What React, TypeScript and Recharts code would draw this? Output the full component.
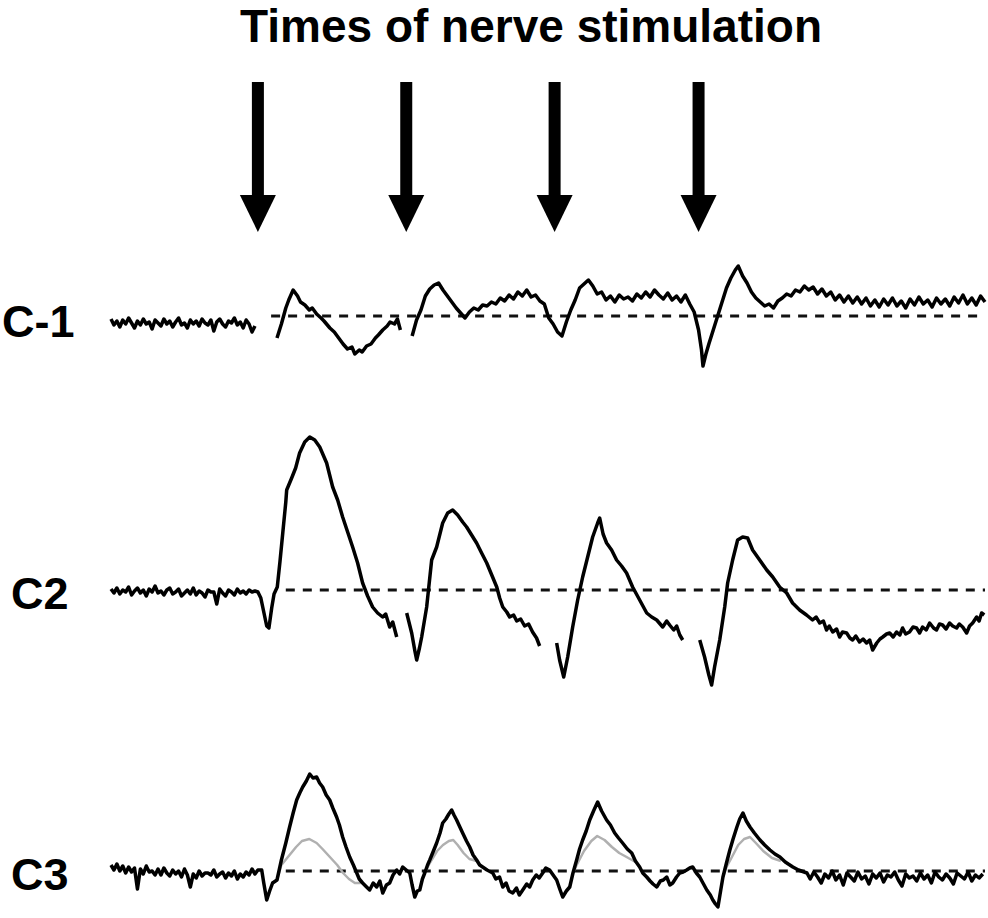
import React from 'react';
import { LineChart, Line, XAxis, YAxis, ReferenceLine, ScatterChart, Scatter } from 'recharts';

// time in ms, amplitude in arbitrary units (relative to each trace's dashed baseline)
const TIME_DOMAIN: [number, number] = [0, 595];

const STIM_TIMES = [100, 201, 302, 400];

const TRACE_LABELS = ['C-1', 'C2', 'C3'];

const C1_TRACE: [number, number | null][] = [
    [0, -3], [2, -9], [4, -5], [6, -11], [8, -4], [10, -8], [12, -2], [14, -7], [16, -12], [18, -5],
    [20, -9], [22, -3], [24, -8], [26, -6], [28, -13], [30, -4], [32, -7], [34, -10], [36, -3], [38, -8],
    [40, -5], [42, -11], [44, -6], [46, -2], [48, -9], [50, -7], [52, -12], [54, -4], [56, -8], [58, -5],
    [60, -10], [62, -3], [64, -7], [66, -9], [68, -4], [70, -15], [72, -6], [74, -3], [76, -8], [78, -11],
    [80, -5], [82, -7], [84, -2], [86, -9], [88, -6], [90, -12], [92, -4], [94, -8], [96, -16], [98, -10],
    [105, null],
    [113, -22], [116, -8], [119, 8], [121, 16], [124, 26], [127, 20], [129, 14], [132, 11], [135, 6], [137, 8],
    [140, 2], [143, -2], [145, -5], [149, -12], [152, -16], [156, -24], [158, -28], [161, -33], [164, -31], [166, -38],
    [169, -34], [171, -36], [174, -30], [177, -28], [180, -22], [182, -19], [185, -14], [188, -10], [190, -6], [193, -8],
    [195, -3], [197, -14],
    [201, null],
    [205, -20], [208, -4], [211, 6], [214, 20], [217, 27], [220, 31], [223, 33], [226, 26], [229, 20], [232, 14],
    [235, 8], [238, 3], [241, -2], [244, 4], [247, 8], [250, 6], [253, 11], [256, 10], [259, 14], [262, 12],
    [265, 18], [268, 15], [271, 21], [274, 17], [277, 24], [280, 20], [283, 26], [286, 19], [289, 21], [292, 15],
    [295, 12], [298, -2], [301, -8], [304, -16], [307, -20], [310, -6], [313, 6], [316, 16], [319, 28], [322, 32],
    [325, 36], [328, 30], [331, 22], [334, 24], [337, 16], [340, 20], [343, 14], [346, 21], [349, 17], [352, 19],
    [355, 15], [358, 22], [361, 18], [364, 24], [367, 19], [370, 26], [373, 21], [376, 17], [379, 23], [382, 16],
    [385, 20], [388, 14], [391, 21], [394, 12], [397, 4], [400, -14], [402, -34], [403, -50], [405, -38], [407, -28],
    [410, -14], [413, 0], [416, 14], [419, 28], [422, 38], [425, 46], [427, 50], [430, 40], [433, 33], [436, 24],
    [439, 18], [442, 14], [445, 10], [448, 12], [451, 8], [454, 15], [457, 18], [460, 22], [463, 20], [466, 26],
    [469, 24], [472, 30], [475, 26], [478, 29], [481, 22], [484, 27], [487, 20], [490, 24], [493, 16], [496, 21],
    [499, 14], [502, 20], [505, 13], [508, 19], [511, 12], [514, 18], [517, 10], [520, 16], [523, 9], [526, 17],
    [529, 11], [532, 18], [535, 10], [538, 15], [541, 8], [544, 17], [547, 11], [550, 19], [553, 12], [556, 16],
    [559, 9], [562, 18], [565, 12], [568, 17], [571, 10], [574, 19], [577, 13], [580, 21], [583, 12], [586, 18],
    [589, 11], [592, 20], [595, 14],
];

const C2_TRACE: [number, number | null][] = [
    [0, 1], [2, -3], [4, 2], [6, -4], [8, 0], [10, -2], [12, 3], [14, -5], [16, -1], [18, 2],
    [20, -3], [22, 0], [24, -6], [26, 1], [28, -2], [30, 4], [32, -3], [34, -1], [36, -5], [38, 0],
    [40, 2], [42, -4], [44, -2], [46, 1], [48, -6], [50, -3], [52, 0], [54, -4], [56, 2], [58, -5],
    [60, -1], [62, -3], [64, -7], [66, 0], [68, -2], [70, -2], [72, -14], [74, 1], [76, -3], [78, -6],
    [80, 0], [82, -2], [84, -5], [86, 1], [88, -3], [90, -1], [92, -4], [94, 0], [96, -2], [98, -1],
    [100, -2], [102, -8], [104, -22], [106, -36], [107.5, -38], [109.4, -18], [111, -4], [113.2, 3], [115, 28], [117, 58],
    [119, 88], [119.6, 100], [123, 112], [125.7, 122], [128.4, 137], [131.9, 148], [135.3, 153], [138.7, 150], [142.1, 143], [146.8, 127],
    [150.9, 103], [154.3, 90], [157.7, 73], [161.1, 58], [164.5, 43], [167.9, 27], [171.3, 7], [174.7, -6], [178.1, -17], [181.5, -23],
    [184.9, -27], [187, -24], [189.7, -37], [191.8, -32], [194.5, -47],
    [198, null],
    [201.3, -23], [204.7, -43], [207, -62], [208.1, -70], [210, -58], [211.5, -47], [214.9, -17], [218.3, 30], [221.7, 43], [225.8, 67],
    [229.2, 77], [232.6, 80], [236, 75], [239.4, 68], [242.1, 63], [245.5, 55], [248.9, 47], [252.3, 37], [255.8, 27], [259.2, 15],
    [262.6, 3], [264.6, -8], [266.7, -17], [269.4, -22], [271.4, -27], [274.1, -25], [276.2, -31], [278.9, -29], [281.6, -36], [284.3, -34],
    [287, -42], [289.7, -48], [291.8, -56],
    [297, null],
    [303.4, -53], [305.4, -70], [308.2, -87], [310.9, -67], [314.3, -37], [317.7, -10], [321.1, 13], [324.5, 33], [327.9, 53], [331.3, 67],
    [332.7, 72], [335, 56], [337.4, 47], [340.8, 40], [344.2, 30], [347.6, 24], [351, 17], [355.1, 3], [359.9, -10], [364.7, -23],
    [368.1, -27], [371.5, -30], [375.6, -37], [378.3, -31], [380.3, -35], [383.1, -40], [385.1, -36], [387.2, -45], [389.2, -50],
    [395, null],
    [400.8, -50], [404.1, -67], [407, -85], [408.9, -95], [410.9, -77], [414.4, -50], [417.8, -17], [419.8, 7], [423.2, 30], [426.6, 50],
    [430, 53], [433.4, 52], [436.8, 40], [441.6, 30], [446.4, 20], [450.5, 13], [455.2, 3], [460, -3], [464, -13], [468.8, -20],
    [473.5, -25], [477.6, -30], [480, -27], [482.5, -33], [485, -31], [487.1, -40], [489, -36], [491.3, -42], [494, -39], [496, -47],
    [498, -42], [500.8, -43], [503, -48], [504.9, -50], [507, -46], [509.6, -52], [512, -49], [514.4, -53], [516.5, -50], [518.5, -60],
    [521.3, -53], [523.5, -49], [525.4, -47], [528, -44], [530.1, -43], [532.5, -47], [534.8, -42], [537, -45], [538.9, -38], [541, -44],
    [543.6, -42], [546, -37], [548.4, -38], [550.5, -43], [552.5, -37], [555, -40], [557.3, -33], [560, -38], [562, -40], [564, -34],
    [566.1, -35], [568.5, -39], [570.9, -33], [573, -36], [575.7, -38], [577.5, -34], [579.8, -37], [582.5, -43], [584.5, -36], [586.6, -33],
    [589.3, -27], [591, -31], [592.7, -23], [594.5, -25],
];

const C3_TRACE: [number, number][] = [
    [0, 6], [2, 1], [4, 7], [6, 0], [8, 5], [10, -2], [12, 4], [14, -1], [16, 3], [18, -18],
    [20, 2], [22, -3], [24, 5], [26, -1], [28, 0], [30, -4], [32, 2], [34, -4], [36, 3], [38, -2],
    [40, -5], [42, 1], [44, -3], [46, 0], [48, -6], [50, 2], [52, -4], [54, -16], [56, -3], [58, -7],
    [60, 0], [62, -5], [64, -2], [66, -2], [68, -4], [70, 1], [72, -6], [74, -3], [76, -1], [78, -7],
    [80, -2], [82, -5], [84, 0], [86, -8], [88, -3], [90, -6], [92, -1], [94, -4], [96, 2], [98, -3],
    [100, 1], [102.6, 1], [104, -12], [106, -29], [108, -20], [110, -12], [113, -9], [116, 11], [119, 28], [121.6, 44],
    [124, 58], [126.4, 71], [128.5, 78], [130.5, 84], [133, 90], [135.3, 97], [137.5, 93], [140, 94], [142, 88], [144.1, 84],
    [146.5, 76], [148.9, 71], [151, 63], [153.6, 54], [155.5, 46], [157.7, 34], [160, 24], [162.5, 14], [165, 6], [167.3, -2],
    [169, -8], [171.3, -12], [174, -16], [176.1, -19], [178.5, -12], [180.9, -16], [183, -10], [185, -22], [187.5, -14], [189.7, -12],
    [192, -4], [194.5, 1], [196.5, -3], [198.6, 4], [201, 1], [203.4, -2], [205, -14], [206.8, -26], [208.5, -20], [210.2, -19],
    [212, -8], [213.6, -2], [215.5, 6], [217, 11], [219.5, 20], [221.7, 28], [224, 38], [225.8, 48], [228, 52], [230, 57],
    [231.9, 61], [233.5, 56], [235.3, 51], [237.5, 44], [239.4, 38], [242, 30], [244.2, 24], [246.5, 16], [248.9, 11], [251, 6],
    [253, 4], [256, 1], [259.9, -2], [262, -8], [264.5, -6], [266.7, -16], [269, -12], [271, -20], [273.5, -22], [276, -17],
    [278, -24], [280.3, -19], [283, -13], [285, -16], [287.1, -9], [289.5, -4], [291.5, -7], [293.9, -2], [296, 3], [298.6, 1],
    [300.5, -3], [303.4, -9], [305.5, -18], [307.5, -26], [310, -20], [312.3, -16], [314.5, -2], [317, 11], [319, 22], [321.1, 31],
    [323.5, 40], [325.9, 51], [328.5, 60], [331.3, 69], [334, 60], [337.4, 51], [340, 46], [342.9, 38], [345.5, 33], [348.3, 28],
    [351.5, 22], [354.5, 18], [357, 10], [359.9, 4], [362, -2], [364.7, -6], [367, -10], [369, -13], [371.5, -16], [374, -10],
    [376, -9], [378.3, -6], [380.5, -14], [382.4, -12], [385, -6], [387.2, -2], [389.5, -1], [391.9, 1], [394, 3], [396, 4],
    [398.5, -2], [400.8, -6], [403, -12], [405.6, -19], [408, -24], [409.7, -29], [411.5, -33], [413.2, -36], [415, -20], [416.6, -6],
    [419, 8], [421.3, 21], [423.5, 32], [426.1, 44], [428, 52], [430.2, 58], [432.5, 50], [435, 44], [438, 38], [441.8, 31],
    [445, 26], [448.6, 21], [452, 17], [455.4, 14], [459, 9], [464.2, 4], [468, 1], [473.8, -2], [476, -8], [478.5, -1],
    [481, -6], [483.5, -12], [486, -3], [488.5, -7], [491, 0], [493.5, -9], [496, -4], [498.5, -14], [501, -2], [503.5, -6],
    [506, -10], [508.5, -1], [511, -8], [513.5, -5], [516, -13], [518.5, -3], [521, -7], [523.5, -2], [526, -11], [528.5, -4],
    [531, -6], [533.5, -1], [536, -9], [538.5, -15], [541, -3], [543.5, -7], [546, -5], [548.5, -10], [551, -2], [553.5, -8],
    [556, -4], [558.5, -12], [561, -1], [563.5, -6], [566, -9], [568.5, -3], [571, -7], [573.5, -13], [576, -2], [578.5, -5],
    [581, -8], [583.5, -1], [586, -10], [588.5, -4], [591, -7], [593.5, -3],
];

// fainter comparison recording under C3: only visible where it leaves the black trace
const C3_GREY_TRACE: [number, number | null][] = [
    [113, -9], [116, 6], [121, 15], [126, 24], [130, 30], [135, 32], [140, 28], [144, 22], [149, 14], [154, 6],
    [158, -2], [162, -8], [166, -12], [170, -12],
    [190, null],
    [213.6, -2], [217, 8], [222, 20], [226, 26], [230, 30], [233, 31], [236, 26], [240, 18], [244, 12], [249, 10],
    [280, null],
    [314.5, -2], [317, 6], [322, 20], [327, 30], [331, 35], [336, 31], [341, 24], [346, 18], [351, 14], [357, 9],
    [380, null],
    [416.6, -6], [419, 4], [422, 12], [427, 26], [431, 32], [435, 34], [439, 28], [444, 20], [450, 13], [456, 10],
];

const FONT = '"Liberation Sans", Arial, Helvetica, sans-serif';
const CHART_MARGIN = { top: 0, right: 3, bottom: 0, left: 111 };

const c1Data = C1_TRACE.map(([t, v]) => ({ t, v }));
const c2Data = C2_TRACE.map(([t, v]) => ({ t, v }));
const c3Data = C3_TRACE.map(([t, v]) => ({ t, v }));
const c3GreyData = C3_GREY_TRACE.map(([t, v]) => ({ t, v }));
const stimData = STIM_TIMES.map((t) => ({ t, y: 1 }));

const ArrowShape = (props: any) => {
    const { cx, cy } = props;
    return (
        <g>
            <rect x={cx - 6} y={cy} width={12} height={115} fill="#000" />
            <polygon points={`${cx - 18},${cy + 113} ${cx + 18},${cy + 113} ${cx},${cy + 150}`} fill="#000" />
        </g>
    );
};

const Baseline = ({ from }: { from: number }) => (
    <ReferenceLine
        segment={[{ x: from, y: 0 }, { x: TIME_DOMAIN[1], y: 0 }]}
        stroke="#111"
        strokeWidth={3}
        strokeDasharray="9 8"
    />
);

const traceProps = {
    type: 'linear' as const,
    dataKey: 'v',
    dot: false,
    activeDot: false,
    connectNulls: false,
    isAnimationActive: false,
    strokeLinejoin: 'round' as const,
};

const App: React.FC = () => {
    return (
        <div style={{ position: 'absolute', left: 0, top: 0, width: 988, height: 918, background: '#fff', overflow: 'hidden' }}>
            <svg width={988} height={918} style={{ position: 'absolute', left: 0, top: 0 }}>
                <text x={531} y={42} textAnchor="middle" fontSize={46} fontWeight="bold" fontFamily={FONT} fill="#000">
                    Times of nerve stimulation
                </text>
                <text x={2} y={337} fontSize={45} fontWeight="bold" fontFamily={FONT} fill="#000">{TRACE_LABELS[0]}</text>
                <text x={11} y={609} fontSize={45} fontWeight="bold" fontFamily={FONT} fill="#000">{TRACE_LABELS[1]}</text>
                <text x={11} y={890} fontSize={45} fontWeight="bold" fontFamily={FONT} fill="#000">{TRACE_LABELS[2]}</text>
            </svg>

            {/* stimulation arrows */}
            <div style={{ position: 'absolute', left: 0, top: 82 }}>
                <ScatterChart width={988} height={160} margin={CHART_MARGIN}>
                    <XAxis type="number" dataKey="t" domain={TIME_DOMAIN} hide />
                    <YAxis type="number" dataKey="y" domain={[0, 1]} hide />
                    <Scatter data={stimData} shape={ArrowShape} isAnimationActive={false} />
                </ScatterChart>
            </div>

            {/* C-1 */}
            <div style={{ position: 'absolute', left: 0, top: 250 }}>
                <LineChart width={988} height={140} data={c1Data} margin={CHART_MARGIN}>
                    <XAxis type="number" dataKey="t" domain={TIME_DOMAIN} hide />
                    <YAxis type="number" domain={[-74, 66]} hide />
                    {Baseline({ from: 109 })}
                    <Line {...traceProps} stroke="#000" strokeWidth={3.5} />
                </LineChart>
            </div>

            {/* C2 */}
            <div style={{ position: 'absolute', left: 0, top: 420 }}>
                <LineChart width={988} height={290} data={c2Data} margin={CHART_MARGIN}>
                    <XAxis type="number" dataKey="t" domain={TIME_DOMAIN} hide />
                    <YAxis type="number" domain={[-120, 170]} hide />
                    {Baseline({ from: 119 })}
                    <Line {...traceProps} stroke="#000" strokeWidth={3.5} />
                </LineChart>
            </div>

            {/* C3 */}
            <div style={{ position: 'absolute', left: 0, top: 760 }}>
                <LineChart width={988} height={155} margin={CHART_MARGIN}>
                    <XAxis type="number" dataKey="t" domain={TIME_DOMAIN} hide />
                    <YAxis type="number" domain={[-44, 111]} hide />
                    {Baseline({ from: 119 })}
                    <Line {...traceProps} data={c3GreyData} stroke="#b0b0b0" strokeWidth={2.5} />
                    <Line {...traceProps} data={c3Data} stroke="#000" strokeWidth={3.5} />
                </LineChart>
            </div>
        </div>
    );
};

export default App;
